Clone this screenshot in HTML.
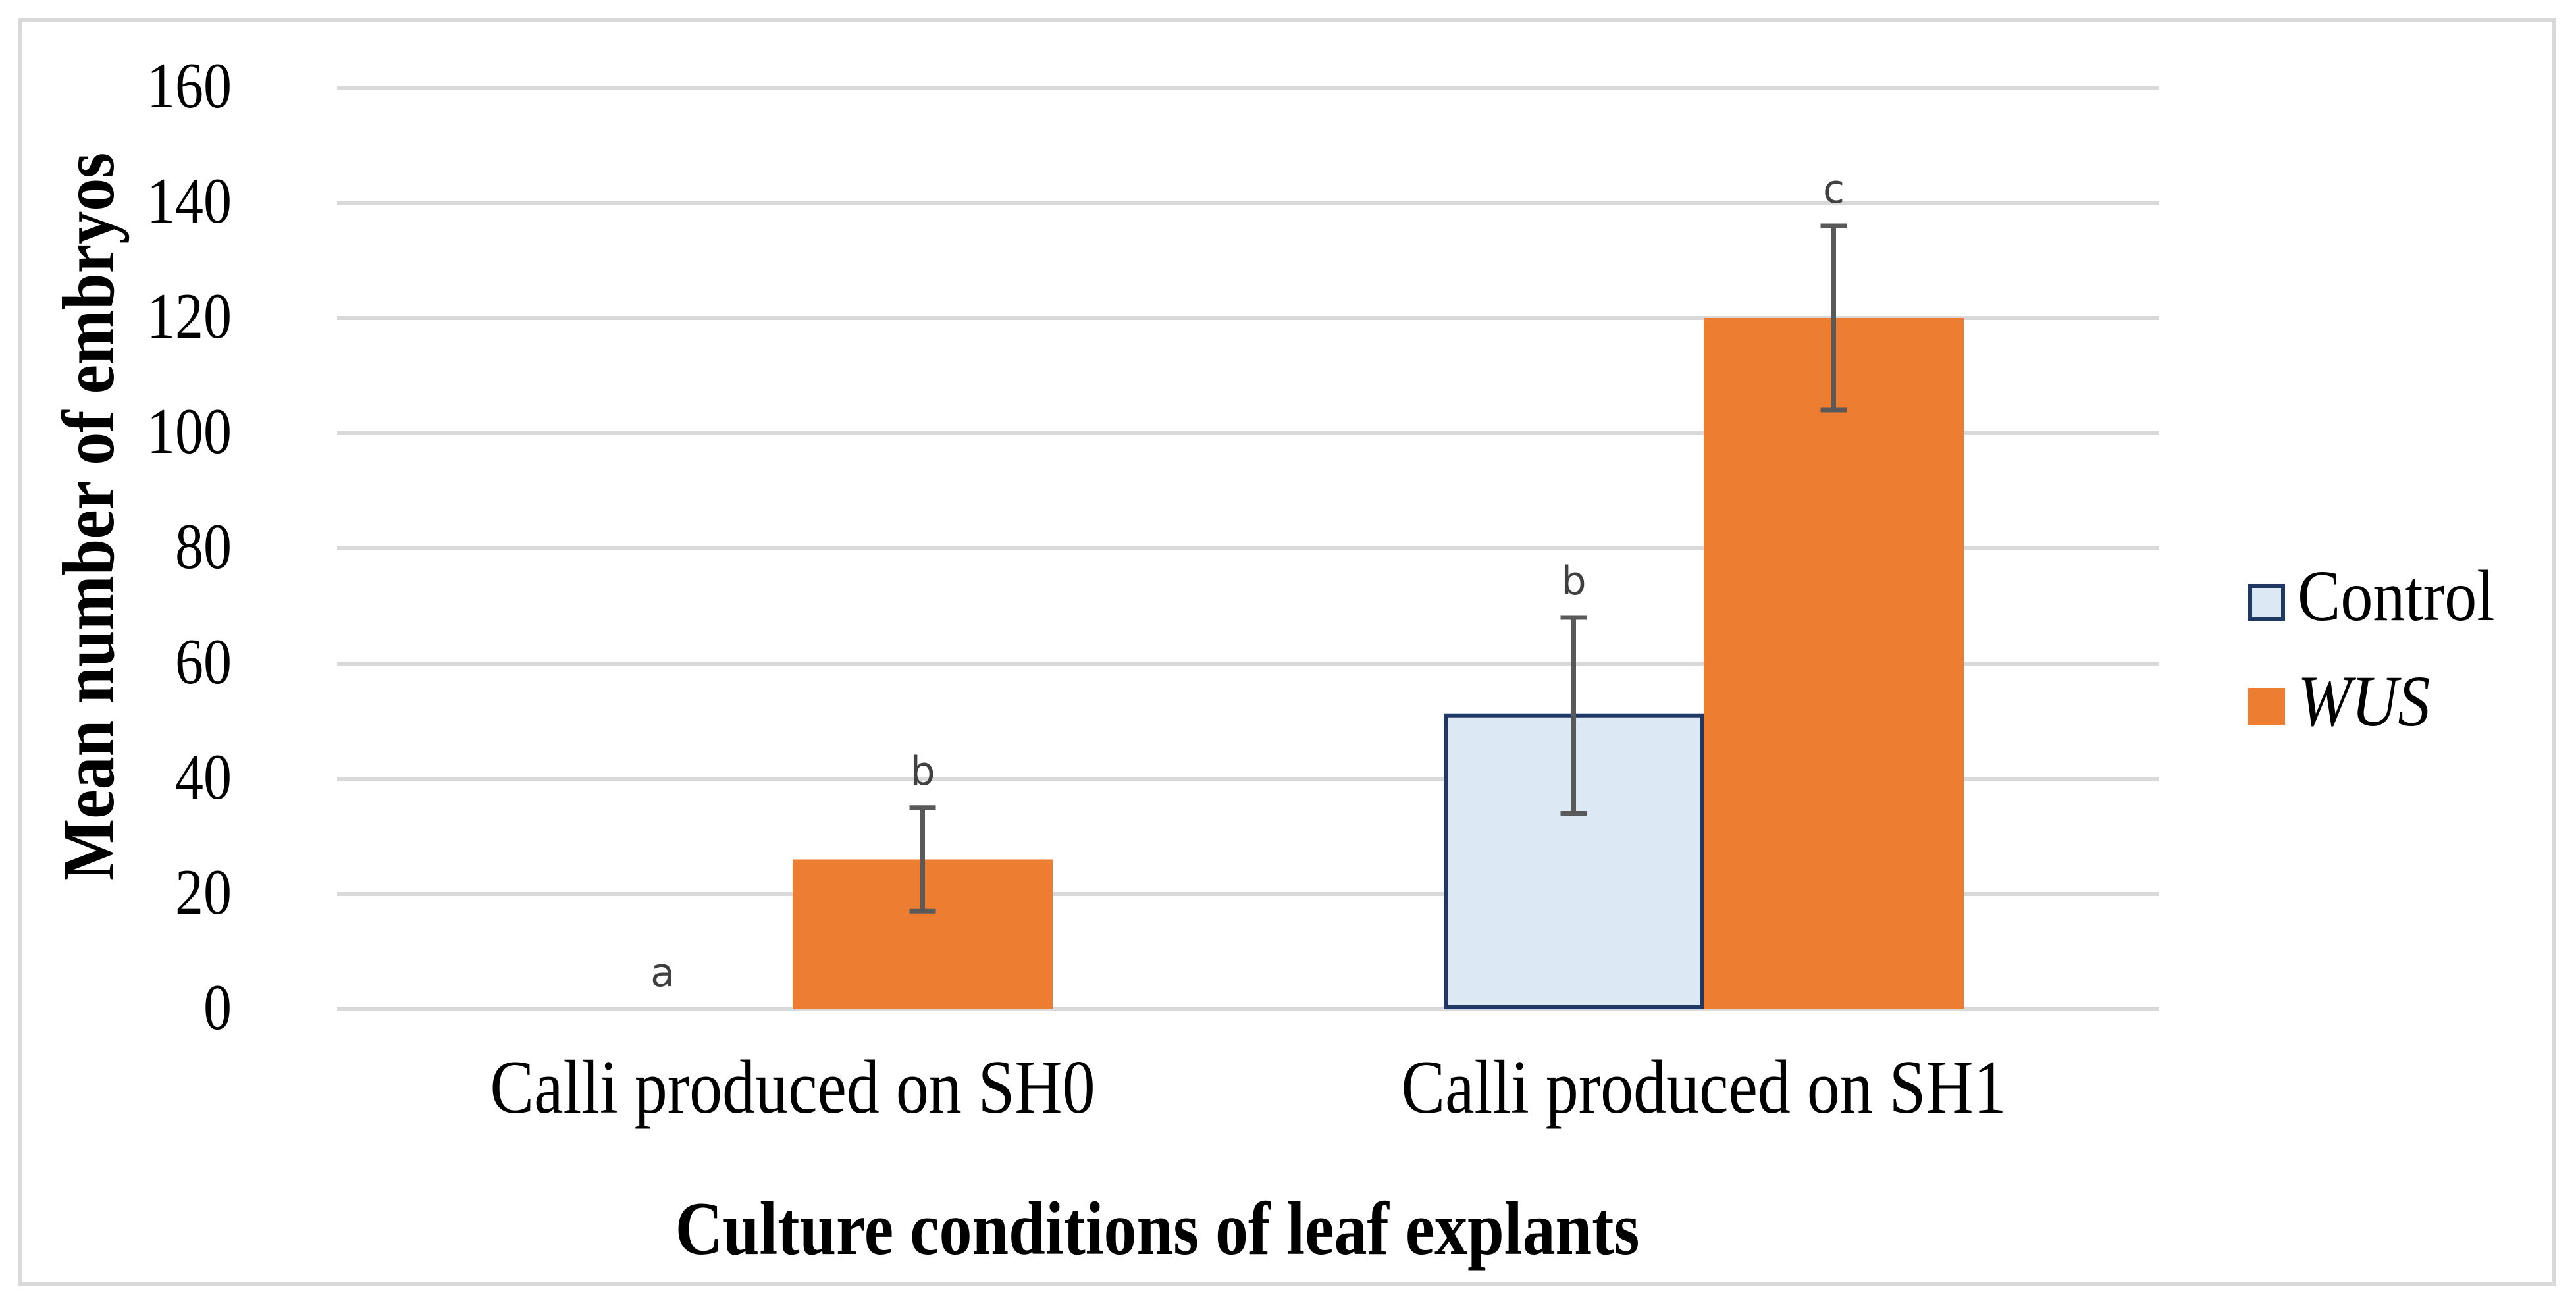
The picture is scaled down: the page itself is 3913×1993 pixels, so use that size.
<!DOCTYPE html>
<html><head><meta charset="utf-8"><style>
html,body{margin:0;padding:0;background:#fff;}
svg{display:block;}
</style></head><body>
<svg id="chart" width="3913" height="1993" viewBox="0 0 3913 1993" xmlns="http://www.w3.org/2000/svg">
<rect x="30" y="30" width="3850" height="1920" fill="#fff" stroke="#d9d9d9" stroke-width="6"/>
<g id="grid"></g>
<g id="bars"></g>
<g id="errs"></g>
<g id="labels"></g>
<g transform="translate(172 785) rotate(-90) scale(1 1.12)">
<text x="0" y="0" text-anchor="middle" font-family="Liberation Serif, serif" font-weight="bold" font-size="100" fill="#000">Mean number of embryos</text>
</g>
<g transform="translate(1758 1905) scale(1 1.15)">
<text x="0" y="0" text-anchor="middle" font-family="Liberation Serif, serif" font-weight="bold" font-size="100" fill="#000">Culture conditions of leaf explants</text>
</g>
<g>
<rect x="3418" y="890" width="50" height="50" fill="#dde8f5" stroke="#1f3864" stroke-width="6"/>
<g transform="translate(3490 942) scale(1 1.12)"><text x="0" y="0" font-family="Liberation Serif, serif" font-size="98" fill="#000">Control</text></g>
<rect x="3415" y="1045" width="56" height="56" fill="#ed7d31"/>
<g transform="translate(3490 1102) scale(1 1.12)"><text x="0" y="0" font-family="Liberation Serif, serif" font-style="italic" font-size="98" fill="#000">WUS</text></g>
</g>
</svg>
<script>
const categories = ["Calli produced on SH0", "Calli produced on SH1"];
const controlValues = [0, 51];
const wusValues = [26, 120];
const controlErr = [0, 17];
const wusErr = [9, 16];
const controlLetters = ["a", "b"];
const wusLetters = ["b", "c"];
const yTicks = [0, 20, 40, 60, 80, 100, 120, 140, 160];

const NS = "http://www.w3.org/2000/svg";
const X0 = 512, X1 = 3280, Y0 = 1533, Y1 = 133, YMAX = 160;
const yScale = v => Y0 - (v / YMAX) * (Y0 - Y1);
const catW = (X1 - X0) / categories.length;
const catCenter = i => X0 + catW * (i + 0.5);
const barW = 395;
function mk(tag, attrs, parent) {
  const e = document.createElementNS(NS, tag);
  for (const k in attrs) e.setAttribute(k, attrs[k]);
  (typeof parent === "string" ? document.getElementById(parent) : parent).appendChild(e);
  return e;
}
yTicks.forEach(t => {
  const l = mk("line", {x1: X0, x2: X1, y1: yScale(t), y2: yScale(t), stroke: "#d9d9d9", "stroke-width": 6}, "grid");
  
  
  const g = mk("g", {transform: `translate(352 ${yScale(t) + 30}) scale(1 1.15)`}, "labels");
  const tx = mk("text", {x: 0, y: 0, "text-anchor": "end", "font-family": "Liberation Serif, serif", "font-size": 86, fill: "#000"}, g);
  tx.textContent = t;
  
  
});
categories.forEach((c, i) => {
  const cx = catCenter(i);
  const g = mk("g", {transform: `translate(${cx} 1690) scale(1 1.15)`}, "labels");
  const tx = mk("text", {x: 0, y: 0, "text-anchor": "middle", "font-family": "Liberation Serif, serif", "font-size": 100, fill: "#000"}, g);
  tx.textContent = c;
  
  
  const series = [
    {v: controlValues[i], e: controlErr[i], l: controlLetters[i], x: cx - barW, fill: "#dde8f5", stroke: "#1f3864", n: "control"},
    {v: wusValues[i], e: wusErr[i], l: wusLetters[i], x: cx, fill: "#ed7d31", stroke: "none", n: "wus"}
  ];
  series.forEach(s => {
    const mid = s.x + barW / 2;
    if (s.v > 0) {
      const attrs = {x: s.x, y: yScale(s.v), width: barW, height: Y0 - yScale(s.v), fill: s.fill};
      if (s.stroke !== "none") { attrs.stroke = s.stroke; attrs["stroke-width"] = 6; attrs.x = s.x + 3; attrs.width = barW - 6; attrs.height = attrs.height - 3; }
      const b = mk("rect", attrs, "bars");
      
      
    }
    if (s.e > 0) {
      const yt = yScale(s.v + s.e), yb = yScale(s.v - s.e);
      const p = mk("path", {d: `M${mid},${yt}V${yb}M${mid-20},${yt}H${mid+20}M${mid-20},${yb}H${mid+20}`, stroke: "#595959", "stroke-width": 7, fill: "none"}, "errs");
      
      
    }
    const lt = mk("text", {x: mid, y: yScale(s.v + s.e) - 35, "text-anchor": "middle", "font-family": "DejaVu Sans, sans-serif", "font-size": 60, fill: "#404040"}, "labels");
    lt.textContent = s.l;
    
    
  });
});
</script>
</body></html>
